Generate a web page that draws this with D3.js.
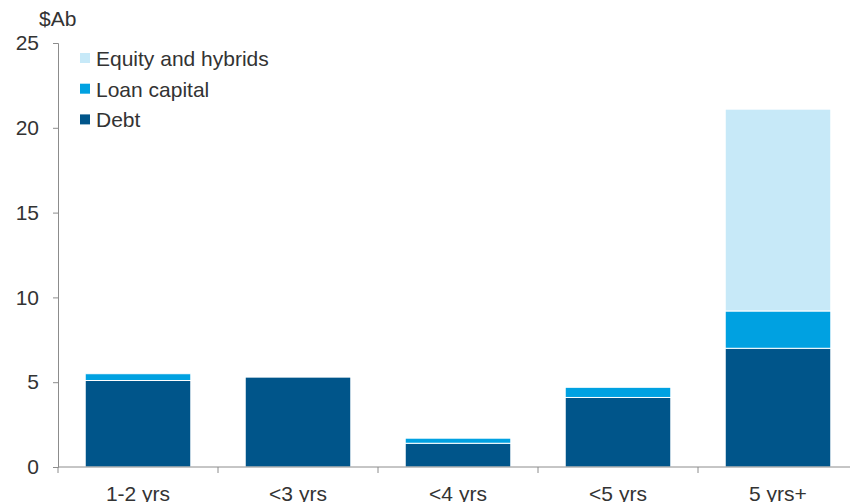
<!DOCTYPE html>
<html>
<head>
<meta charset="utf-8">
<script src="https://cdn.jsdelivr.net/npm/d3@7"></script>
<style>
  html, body { margin: 0; padding: 0; background: #fff; }
  svg { display: block; font-family: "Liberation Sans", Arial, sans-serif; }
</style>
</head>
<body>
<svg id="chart" width="850" height="502"></svg>
<script>
// Maturity buckets and funding amounts ($A billion)
const categories = ["1-2 yrs", "<3 yrs", "<4 yrs", "<5 yrs", "5 yrs+"];
const debt = [5.1, 5.3, 1.4, 4.1, 7.0];
const loanCapital = [0.4, 0, 0.3, 0.6, 2.2];
const equityHybrids = [0, 0, 0, 0, 11.9];
const seriesNames = ["Debt", "Loan capital", "Equity and hybrids"];
const seriesColors = ["#00558a", "#00a1e1", "#c7e9f8"];
const yTicks = [0, 5, 10, 15, 20, 25];
const unitLabel = "$Ab";

const FONT = 21;
const TEXT = "#333";
const AXIS = "#8c8c8c";

const svg = d3.select("#chart");
const margin = { left: 58, top: 43, bottom: 35 };
const height = 502;
const plotBottom = height - margin.bottom;

const table = categories.map((c, i) => ({
  cat: c,
  "Debt": debt[i],
  "Loan capital": loanCapital[i],
  "Equity and hybrids": equityHybrids[i]
}));
const stacked = d3.stack().keys(seriesNames)(table);

const x = d3.scaleBand().domain(categories).range([margin.left, margin.left + 800])
  .paddingInner(0.34).paddingOuter(0.17);
const y = d3.scaleLinear().domain([0, 25]).range([plotBottom, margin.top]);
const color = d3.scaleOrdinal().domain(seriesNames).range(seriesColors);

// Stacked bars
svg.append("g").selectAll("g").data(stacked).join("g")
  .attr("fill", d => color(d.key))
  .selectAll("rect").data(d => d.filter(s => s[1] - s[0] > 0)).join("rect")
  .attr("x", d => x(d.data.cat))
  .attr("width", x.bandwidth())
  .attr("y", d => y(d[1]))
  .attr("height", d => y(d[0]) - y(d[1]))
  .attr("stroke", "#fff")
  .attr("stroke-width", 1);

// Y axis
const yAxis = svg.append("g").attr("transform", `translate(${margin.left},0)`)
  .call(d3.axisLeft(y).tickValues(yTicks).tickSize(5).tickPadding(14));
yAxis.select(".domain").attr("stroke", AXIS);
yAxis.selectAll(".tick line").attr("stroke", AXIS);
yAxis.selectAll(".tick text").attr("font-size", FONT).attr("fill", TEXT)
  .attr("font-family", "Liberation Sans, Arial, sans-serif");

// X axis with ticks at band boundaries
const xAxis = svg.append("g").attr("transform", `translate(0,${plotBottom})`);
xAxis.append("line").attr("x1", margin.left).attr("x2", 850)
  .attr("stroke", AXIS);
const step = x.step();
const boundaries = categories.map((c, i) => margin.left + i * step);
xAxis.selectAll("line.tk").data(boundaries).join("line").attr("class", "tk")
  .attr("x1", d => d).attr("x2", d => d).attr("y1", 0).attr("y2", 6)
  .attr("stroke", AXIS);
xAxis.selectAll("text").data(categories).join("text")
  .attr("x", d => x(d) + x.bandwidth() / 2)
  .attr("y", 34)
  .attr("text-anchor", "middle")
  .attr("font-size", FONT).attr("fill", TEXT)
  .text(d => d);

// Unit label
svg.append("text").attr("x", 39).attr("y", 26).attr("font-size", FONT)
  .attr("fill", TEXT).text(unitLabel);

// Legend (top series first)
const legendItems = seriesNames.slice().reverse();
const legend = svg.append("g").attr("transform", "translate(80,53)");
legendItems.forEach((name, i) => {
  const g = legend.append("g").attr("transform", `translate(0,${i * 30.7})`);
  g.append("rect").attr("x", 0).attr("y", 0).attr("width", 10).attr("height", 10)
    .attr("fill", color(name));
  g.append("text").attr("x", 16).attr("y", 13).attr("font-size", FONT)
    .attr("fill", TEXT).text(name);
});
</script>
</body>
</html>
